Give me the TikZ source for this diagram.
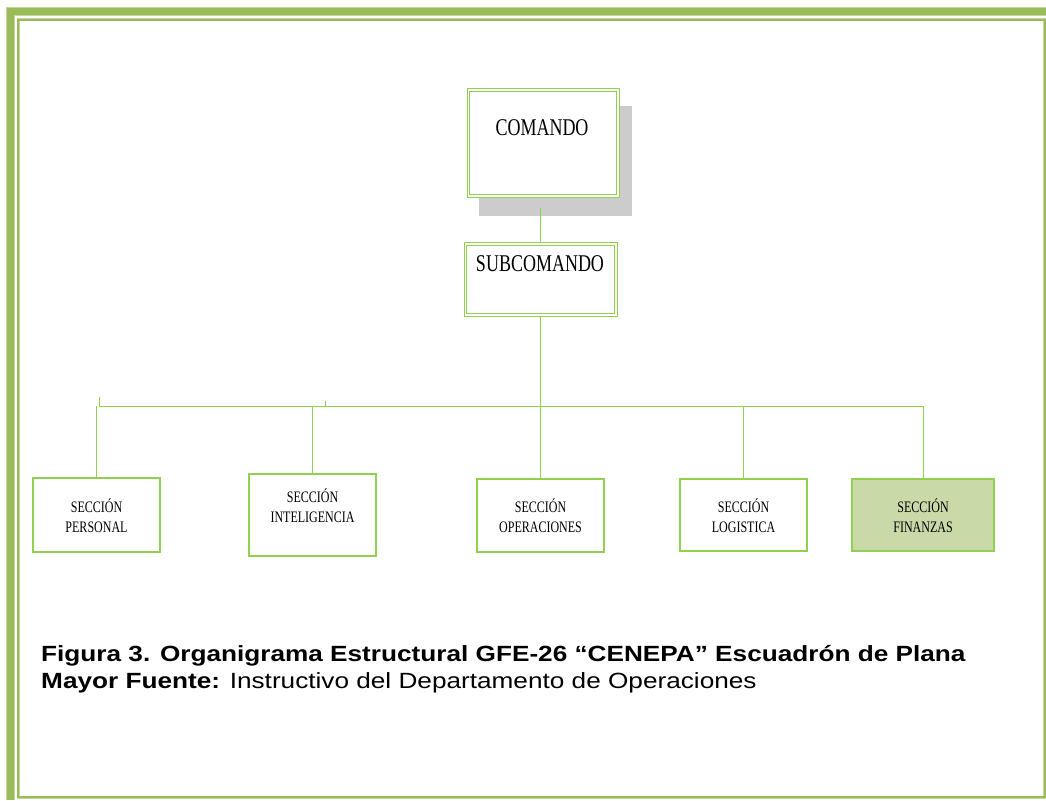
\documentclass[tikz,border=0pt]{standalone}
\usepackage{fontspec}
\setmainfont{Liberation Serif}
\newfontfamily\cond{Liberation Serif}[FakeStretch=0.75]
\newfontfamily\capfont{Liberation Sans}[FakeStretch=1.19]
\usetikzlibrary{calc}
\definecolor{olive}{HTML}{9BBB59}
\definecolor{oliveL}{HTML}{C3D69B}
\definecolor{lgreen}{HTML}{92D050}
\definecolor{finfill}{HTML}{C9DAA8}
\definecolor{shadowgray}{HTML}{CCCCCC}
\begin{document}
\begin{tikzpicture}[x=1pt,y=-1pt,
  dbox/.style={draw=lgreen, line width=1pt, fill=white, inner sep=0},
  secbox/.style={draw=lgreen, line width=1.2pt, minimum width=127pt, inner sep=0},
  lbl/.style={font=\cond\fontsize{16}{20}\selectfont, align=center, inner sep=0},
  bigtxt/.style={font=\cond\fontsize{24}{28}\selectfont, anchor=base, inner sep=0},
  conn/.style={draw=lgreen, line width=1pt},
  inner/.style={draw=lgreen, line width=0.9pt},
  captxt/.style={font=\capfont\fontsize{22}{27}\selectfont, anchor=base west, inner sep=0}]
\useasboundingbox (0,0) rectangle (1046,800);
% frame
\draw[oliveL, line width=9pt, line join=miter] (10,800) -- (10,12) -- (1046,12);
\draw[olive, line width=7pt, line join=miter] (10,800) -- (10,12) -- (1046,12);
\draw[oliveL, line width=3pt] (18,20) rectangle (1044.5,797);
\draw[olive, line width=2pt] (18,20) rectangle (1044.5,797);
% shadow
\fill[shadowgray] (479,106) rectangle (632,216);
% top nodes
\node[dbox, minimum width=152pt, minimum height=109pt] (comando) at (543,142.5) {};
\draw[inner] ($(comando.north west)+(3,3.5)$) rectangle ($(comando.south east)+(-3,-3)$);
\node[bigtxt] (comandotxt) at (542,135) {COMANDO};
\node[dbox, minimum width=153pt, minimum height=74pt] (sub) at (540.5,279) {};
\draw[inner] ($(sub.north west)+(3,3.5)$) rectangle ($(sub.south east)+(-3,-3)$);
\node[bigtxt] (subtxt) at (540,271.5) {SUBCOMANDO};
% section boxes
\node[secbox, minimum height=74pt] (personal) at (96.5,515) {};
\node[secbox, minimum height=82pt] (intel) at (312.5,515) {};
\node[secbox, minimum height=73pt] (oper) at (540.5,515.5) {};
\node[secbox, minimum height=72pt] (logis) at (743.5,515) {};
\node[secbox, minimum height=72pt, minimum width=142pt, fill=finfill] (finan) at (923,515) {};
\node[lbl] (personaltxt) at ($(personal.center)+(0,1)$) {SECCIÓN\\PERSONAL};
\node[lbl] (inteltxt) at ($(intel.center)+(0,-9)$) {SECCIÓN\\INTELIGENCIA};
\node[lbl] (opertxt) at ($(oper.center)+(0,0.5)$) {SECCIÓN\\OPERACIONES};
\node[lbl] (logistxt) at ($(logis.center)+(0,1)$) {SECCIÓN\\LOGISTICA};
\node[lbl] (finantxt) at ($(finan.center)+(0,1)$) {SECCIÓN\\FINANZAS};
% connectors
\coordinate (barL) at (99,406);
\coordinate (barR) at (923,406);
\coordinate (tick2) at (325,401);
\draw[conn, shorten >=10pt] (sub.north) -- (sub.north |- comando.south);
\draw[conn] (sub.south) -- (oper.north);
\draw[conn] (barL) -- (barR);
\draw[conn] (barL) -- ++(0,-9);
\draw[conn] (tick2) -- (tick2 |- barL);
\draw[conn] (personal.north) -- (personal.north |- barL);
\draw[conn] (intel.north) -- (intel.north |- barL);
\draw[conn] (logis.north) -- (logis.north |- barL);
\draw[conn] (finan.north) -- (finan.north |- barL);
% caption
\node[captxt] (cap1) at (41,661) {\bfseries Figura 3. Organigrama Estructural GFE-26 “CENEPA” Escuadrón de Plana};
\node[captxt] (cap2) at (41,688) {\bfseries Mayor Fuente:\mdseries{} Instructivo del Departamento de Operaciones};
\end{tikzpicture}
\end{document}
